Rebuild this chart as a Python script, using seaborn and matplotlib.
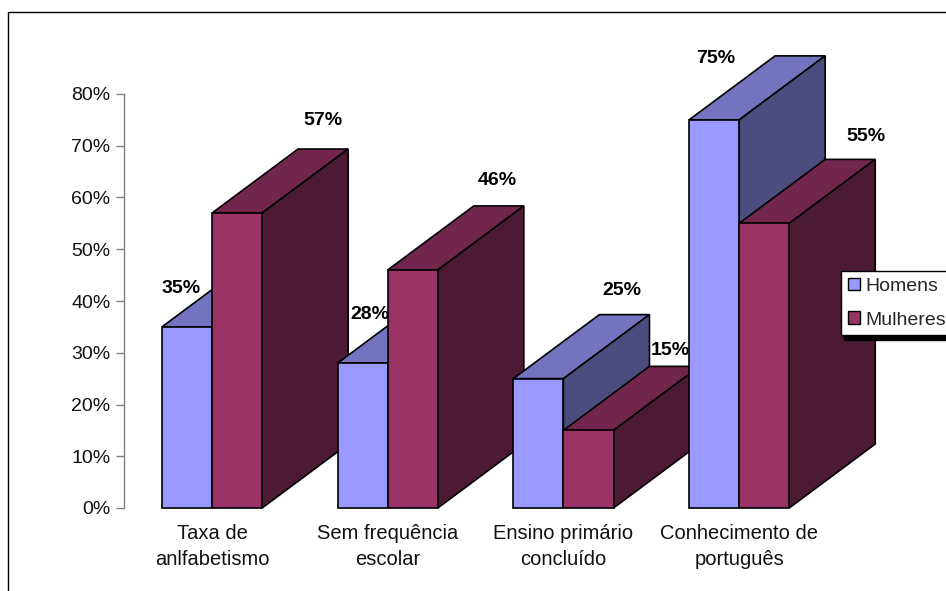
import matplotlib
matplotlib.use("Agg")
import matplotlib.pyplot as plt
from matplotlib.lines import Line2D
from matplotlib.patches import Polygon
import pandas as pd
import seaborn as sns

categories = ["Taxa de\nanlfabetismo", "Sem frequência\nescolar",
              "Ensino primário\nconcluído", "Conhecimento de\nportuguês"]
homens = [35, 28, 25, 75]
mulheres = [57, 46, 15, 55]

# label nudges in pixels from the front top centre of each bar (hand placed in the original)
homens_nudge = [(-6, 38), (7, 49), (83, 88), (2, 61)]
mulheres_nudge = [(86, 93), (85, 89), (82, 80), (102, 87)]

W, H = 946, 591
FRONT = {"Homens": "#9999FF", "Mulheres": "#993366"}
TOP = {"Homens": "#7373BF", "Mulheres": "#73264D"}
SIDE = {"Homens": "#4C4C7F", "Mulheres": "#4D1A33"}

sns.set_style("ticks")
plt.rcParams["font.family"] = ["Liberation Sans", "DejaVu Sans"]

df = pd.DataFrame({
    "cat": categories * 2,
    "valor": homens + mulheres,
    "sexo": ["Homens"] * 4 + ["Mulheres"] * 4,
})

fig = plt.figure(figsize=(W / 100, H / 100), dpi=100)
ax = fig.add_axes([124.2 / W, (H - 508) / H, (827 - 124.2) / W, (508 - 94) / H])

sns.barplot(data=df, x="cat", y="valor", hue="sexo", palette=FRONT, width=0.57, gap=0,
            saturation=1, edgecolor="black", linewidth=1.2, errorbar=None, ax=ax)

ax.set_xlim(-0.5, 3.5)
ax.set_ylim(0, 80)
ax.set_xlabel("")
ax.set_ylabel("")

# fake 3d depth, same offset for every bar
depth_x = 86 / 175.67
depth_y = 64 / 5.175

for j, (container, nome, nudges) in enumerate(zip(ax.containers, ["Homens", "Mulheres"],
                                                  [homens_nudge, mulheres_nudge])):
    for i, bar in enumerate(container):
        z = 10 + 4 * i + 2 * j
        bar.set_zorder(z)
        bar.set_clip_on(False)
        x0, x1 = bar.get_x(), bar.get_x() + bar.get_width()
        h = bar.get_height()
        top = Polygon([(x0, h), (x1, h), (x1 + depth_x, h + depth_y), (x0 + depth_x, h + depth_y)],
                      closed=True, facecolor=TOP[nome], edgecolor="black", linewidth=1.2,
                      zorder=z - 1, clip_on=False)
        side = Polygon([(x1, 0), (x1, h), (x1 + depth_x, h + depth_y), (x1 + depth_x, depth_y)],
                       closed=True, facecolor=SIDE[nome], edgecolor="black", linewidth=1.2,
                       zorder=z - 1, clip_on=False)
        ax.add_patch(top)
        ax.add_patch(side)
        ax.annotate(f"{h:.0f}%", xy=(x0 + bar.get_width() / 2, h), xytext=nudges[i],
                    textcoords="offset pixels", ha="center", va="center", fontsize=14,
                    fontweight="bold", color="black", zorder=z + 0.5, annotation_clip=False)

ax.set_yticks(range(0, 81, 10))
ax.set_yticklabels([f"{v}%" for v in range(0, 81, 10)])
sns.despine(ax=ax, bottom=True)
ax.spines["left"].set_color("#808080")
ax.spines["left"].set_linewidth(1.0)
ax.tick_params(axis="y", length=6, width=1.0, color="#808080", pad=4, labelsize=14, labelcolor="#111111")
ax.tick_params(axis="x", length=0, pad=11.5, labelsize=14.5, labelcolor="#111111")
for lab in ax.get_xticklabels():
    lab.set_linespacing(1.5)

sns.move_legend(ax, loc="upper left", bbox_to_anchor=(841 / W, (H - 271) / H),
                bbox_transform=fig.transFigure, title=None, frameon=True, fancybox=False,
                fontsize=14, borderaxespad=0, borderpad=0.35, handlelength=0.62, handleheight=0.62,
                handletextpad=0.3, labelspacing=0.85, framealpha=1, edgecolor="black",
                shadow={"color": "black", "alpha": 1, "ox": 2.5, "oy": -3.5})
leg = ax.get_legend()
leg.set_zorder(100)
leg.get_frame().set_linewidth(1.0)
for handle in leg.get_patches():
    handle.set_edgecolor("black")
    handle.set_linewidth(1.0)

# outer chart area border, its right and bottom sides are cut off in the original
fig.add_artist(Line2D([8 / W, 8 / W, 1], [0, (H - 12) / H, (H - 12) / H], color="black", linewidth=1.0))

fig.savefig("out.png", dpi=100)
